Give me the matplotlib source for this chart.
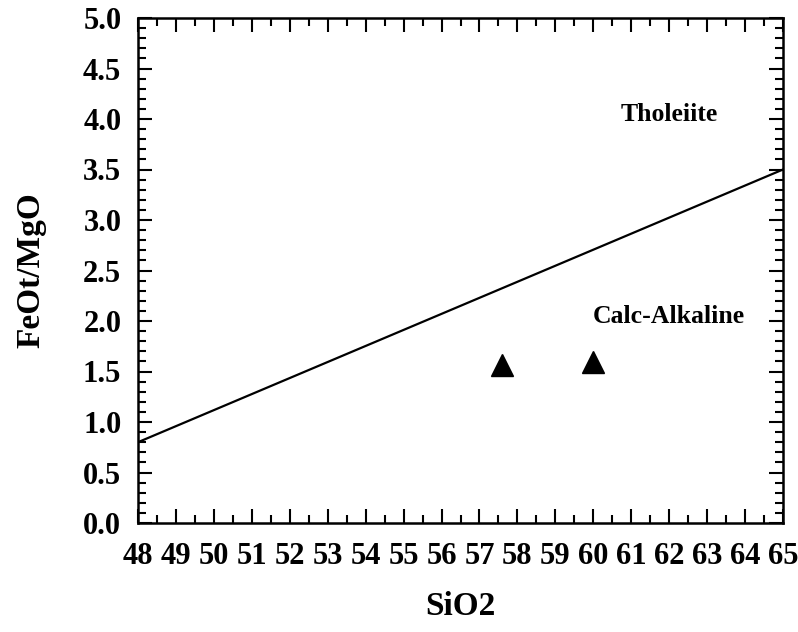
import matplotlib.pyplot as plt
from matplotlib.ticker import MultipleLocator

# boundary line (Miyashiro 1974 style)
line_x = [48, 65]
line_y = [0.8, 3.5]

# samples
sio2 = [57.6, 60.0]
feo_mgo = [1.56, 1.59]

plt.rcParams['font.family'] = ['Liberation Serif', 'DejaVu Serif']
plt.rcParams['font.weight'] = 'bold'

fig = plt.figure(figsize=(7.98, 6.32), dpi=100)
ax = fig.add_axes([138 / 798, 1 - 523 / 632, (783 - 138) / 798, (523 - 18) / 632])

ax.plot(line_x, line_y, color='black', lw=1.6)
ax.plot(sio2, feo_mgo, linestyle='none', marker='^', ms=16, color='black')

ax.text(62.0, 4.04, 'Tholeiite', fontsize=18.5, fontweight='bold', ha='center', va='center')
ax.text(62.0, 2.04, 'Calc-Alkaline', fontsize=18.5, fontweight='bold', ha='center', va='center')

ax.set_xlim(48, 65)
ax.set_ylim(0, 5)
ax.xaxis.set_major_locator(MultipleLocator(1))
ax.xaxis.set_minor_locator(MultipleLocator(0.5))
ax.yaxis.set_major_locator(MultipleLocator(0.5))
ax.yaxis.set_minor_locator(MultipleLocator(0.1))
ax.yaxis.set_major_formatter(plt.FormatStrFormatter('%.1f'))

ax.tick_params(which='both', direction='in', top=True, right=True, width=1.5)
ax.tick_params(which='major', length=10, labelsize=22)
ax.tick_params(axis='x', which='major', pad=14)
ax.tick_params(axis='y', which='major', pad=12)
ax.tick_params(which='minor', length=6)
for s in ax.spines.values():
    s.set_linewidth(1.8)

for lab in ax.get_xticklabels() + ax.get_yticklabels():
    lab.set_fontweight('bold')

ax.set_xlabel('SiO2', fontsize=24, fontweight='bold', labelpad=14)
ax.set_ylabel('FeOt/MgO', fontsize=24, fontweight='bold', labelpad=26)

fig.savefig('out.png', dpi=100)
